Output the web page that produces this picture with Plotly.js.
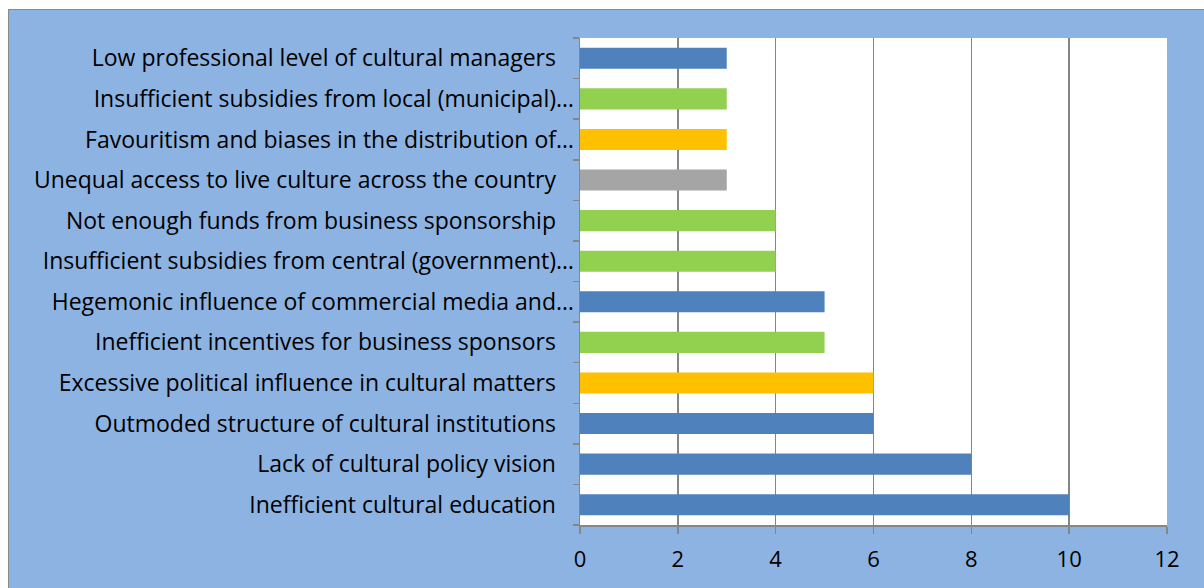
<!DOCTYPE html>
<html><head><meta charset="utf-8">
<script src="https://cdn.plot.ly/plotly-3.0.1.min.js"></script>
<style>
html,body{margin:0;padding:0;background:#fff;}
#wrap{position:absolute;left:8px;top:9px;border-left:1px solid #8a8a8a;border-top:1px solid #8a8a8a;width:1195px;height:578px;overflow:hidden;}
#chart{width:1195px;height:578px;}
</style></head>
<body><div id="wrap"><div id="chart"></div></div>
<script>
const categories = [
  "Inefficient cultural education",
  "Lack of cultural policy vision",
  "Outmoded structure of cultural institutions",
  "Excessive political influence in cultural matters",
  "Inefficient incentives for business sponsors",
  "Hegemonic influence of commercial media and…",
  "Insufficient subsidies from central (government)…",
  "Not enough funds from business sponsorship",
  "Unequal access to live culture across the country",
  "Favouritism and biases in the distribution of…",
  "Insufficient subsidies from local (municipal)…",
  "Low professional level of cultural managers"
];
const values = [10, 8, 6, 6, 5, 5, 4, 4, 3, 3, 3, 3];
const groups = ["blue","blue","blue","orange","green","blue","green","green","gray","orange","green","blue"];
const xTicks = [0, 2, 4, 6, 8, 10, 12];

const palette = {blue:"#4F81BD", green:"#92D050", orange:"#FFC000", gray:"#A5A5A5"};
const pad = "\u00a0\u00a0\u00a0";
const labels = categories.map(c => c.endsWith("…") ? c : c + pad);

Plotly.newPlot("chart", [{
  type: "bar",
  orientation: "h",
  x: values,
  y: labels,
  marker: {color: groups.map(g => palette[g])},
  hoverinfo: "x+y"
}], {
  width: 1195, height: 578,
  paper_bgcolor: "#8DB3E2",
  plot_bgcolor: "#FFFFFF",
  margin: {l: 571, r: 37, t: 28, b: 63},
  bargap: 0.48,
  showlegend: false,
  font: {family: "'Open Sans', sans-serif", size: 23, color: "#000"},
  xaxis: {
    range: [0, 12], tickvals: xTicks, ticktext: xTicks.map(String),
    showgrid: true, gridcolor: "#868686", gridwidth: 1.5,
    showline: true, linecolor: "#868686", linewidth: 1.5,
    ticks: "outside", ticklen: 7, tickcolor: "#868686", tickwidth: 1.5,
    ticklabelstandoff: 7,
    zeroline: false, fixedrange: true,
    tickfont: {size: 22}
  },
  yaxis: {
    type: "category", categoryorder: "array", categoryarray: labels,
    showline: true, linecolor: "#868686", linewidth: 1.5,
    ticks: "outside", ticklen: 6, tickcolor: "#868686", tickwidth: 1.5,
    tickson: "boundaries", showgrid: false,
    zeroline: false, fixedrange: true, automargin: false,
    tickfont: {size: 23}
  }
}, {displayModeBar: false, staticPlot: true});
</script></body></html>
